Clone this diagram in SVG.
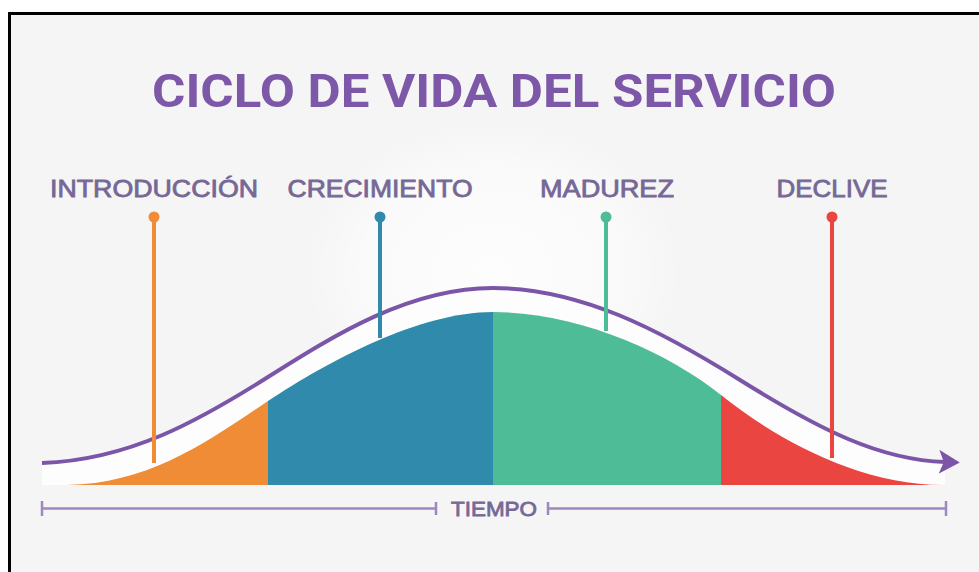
<svg xmlns="http://www.w3.org/2000/svg" width="979" height="572" viewBox="0 0 979 572">
<defs>
<radialGradient id="glow" cx="0.5" cy="0.5" r="0.5">
<stop offset="0" stop-color="#ffffff" stop-opacity="1"/>
<stop offset="0.7" stop-color="#ffffff" stop-opacity="0.6"/>
<stop offset="1" stop-color="#ffffff" stop-opacity="0"/>
</radialGradient>
<marker id="arrow" markerWidth="6" markerHeight="6" refX="1.5" refY="3" orient="auto" markerUnits="strokeWidth">
<path d="M0,0 L5.2,3 L0,6 L1.2,3 Z" fill="#7b55a8"/>
</marker>
<style>
.label{font-family:"Liberation Sans",Arial,sans-serif;font-size:24px;fill:#766896;stroke:#766896;stroke-width:0.8;text-anchor:middle}
.title{font-family:Roboto,"Liberation Sans",sans-serif;font-weight:bold;font-size:46px;fill:#7d57a8;text-anchor:middle}
.stem{stroke-width:4;fill:none}
.axis{stroke:#9d88c2;stroke-width:2.5;fill:none}
</style>
</defs>
<rect x="0" y="0" width="979" height="572" fill="#ffffff"/>
<rect x="10" y="13" width="969" height="559" fill="#f5f5f5"/>
<line x1="9" y1="13.5" x2="979" y2="13.5" stroke="#000" stroke-width="3"/>
<line x1="9.5" y1="12" x2="9.5" y2="572" stroke="#000" stroke-width="3"/>
<ellipse cx="493" cy="270" rx="190" ry="150" fill="url(#glow)" opacity="0.8"/>

<text class="title" x="494" y="107" textLength="684" lengthAdjust="spacingAndGlyphs">CICLO DE VIDA DEL SERVICIO</text>

<!-- white band under the purple curve -->
<path d="M42 463 C130 460,200 420,268 377 C336 334,410 288,493 288 C580 288,660 330,740 380 C820 430,880 460,945 462 L945 485 L42 485 Z" fill="#fdfdfd"/>

<g id="fill-introduccion">
<path d="M67 485 C150 484,210 440,268 401 L268 485 Z" fill="#f08c35"/>
</g>
<g id="fill-crecimiento">
<path d="M268 401 C328 361,420 312,493 312 L493 485 L268 485 Z" fill="#2f8aab"/>
</g>
<g id="fill-madurez">
<path d="M493 312 C575 312,665 350,721 395 L721 485 L493 485 Z" fill="#4fbc98"/>
</g>
<g id="fill-declive">
<path d="M721 395 C777 440,860 485,943 485 L721 485 Z" fill="#ea4540"/>
</g>

<g id="connectors">
<path d="M42 463 C130 460,200 420,268 377 C336 334,410 288,493 288 C580 288,660 330,740 380 C820 430,880 460,945 462" fill="none" stroke="#7b55a8" stroke-width="4" marker-end="url(#arrow)"/>
</g>

<g id="introduccion">
<text class="label" x="154" y="197" textLength="208" lengthAdjust="spacingAndGlyphs">INTRODUCCIÓN</text>
<line class="stem" x1="154" y1="217" x2="154" y2="463" stroke="#f08c35"/>
<circle cx="154" cy="217" r="5.5" fill="#f08c35"/>
</g>
<g id="crecimiento">
<text class="label" x="380" y="197" textLength="185" lengthAdjust="spacingAndGlyphs">CRECIMIENTO</text>
<line class="stem" x1="380" y1="217" x2="380" y2="338" stroke="#2f8aab"/>
<circle cx="380" cy="217" r="5.5" fill="#2f8aab"/>
</g>
<g id="madurez">
<text class="label" x="607" y="197" textLength="134" lengthAdjust="spacingAndGlyphs">MADUREZ</text>
<line class="stem" x1="606" y1="217" x2="606" y2="331" stroke="#4fbc98"/>
<circle cx="606" cy="217" r="5.5" fill="#4fbc98"/>
</g>
<g id="declive">
<text class="label" x="832" y="197" textLength="111" lengthAdjust="spacingAndGlyphs">DECLIVE</text>
<line class="stem" x1="832" y1="217" x2="832" y2="458" stroke="#ea4540"/>
<circle cx="832" cy="217" r="5.5" fill="#ea4540"/>
</g>

<g id="tiempo">
<line class="axis" x1="42" y1="508.5" x2="436" y2="508.5"/>
<line class="axis" x1="548" y1="508.5" x2="946" y2="508.5"/>
<line class="axis" x1="42" y1="501" x2="42" y2="516"/>
<line class="axis" x1="436" y1="502" x2="436" y2="515"/>
<line class="axis" x1="548" y1="502" x2="548" y2="515"/>
<line class="axis" x1="946" y1="501" x2="946" y2="516"/>
<text class="label" x="494" y="516" style="font-size:21px" textLength="86" lengthAdjust="spacingAndGlyphs">TIEMPO</text>
</g>
</svg>
